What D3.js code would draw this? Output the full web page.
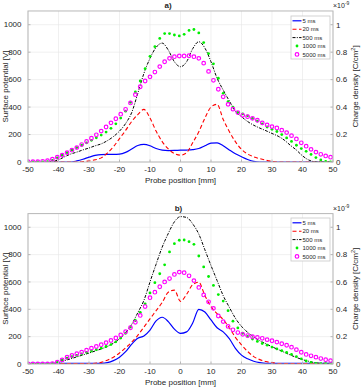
<!DOCTYPE html>
<html>
<head>
<meta charset="utf-8">
<script src="https://cdn.jsdelivr.net/npm/d3@7"></script>
<style>
  body { margin: 0; background: #fff; }
  svg text { font-family: "Liberation Sans", Arial, sans-serif; fill: #262626; }
</style>
</head>
<body>
<svg id="chart" width="361" height="387"></svg>
<script>
// probe positions [mm]: lines sampled every 2 mm, markers every 1.6 mm
const posLine = [-50,-48,-46,-44,-42,-40,-38,-36,-34,-32,-30,-28,-26,-24,-22,-20,-18,-16,-14,-12,-10,-8,-6,-4,-2,
                 0,2,4,6,8,10,12,14,16,18,20,22,24,26,28,30,32,34,36,38,40,42,44,46,48,50];
const posMark = [-50,-48.4,-46.8,-45.2,-43.6,-42,-40.4,-38.8,-37.2,-35.6,-34,-32.4,-30.8,-29.2,-27.6,-26,-24.4,-22.8,
                 -21.2,-19.6,-18,-16.4,-14.8,-13.2,-11.6,-10,-8.4,-6.8,-5.2,-3.6,-2,-0.4,1.2,2.8,4.4,6,7.6,9.2,10.8,
                 12.4,14,15.6,17.2,18.8,20.4,22,23.6,25.2,26.8,28.4,30,31.6,33.2,34.8,36.4,38,39.6,41.2,42.8,44.4,
                 46,47.6,49.2];

const seriesLabels = ["5 ms", "20 ms", "500 ms", "1000 ms", "5000 ms"];
const xTicks = [-50,-40,-30,-20,-10,0,10,20,30,40,50];
const yTicks = [0,200,400,600,800,1000];
const rightTickLabels = ["0","0.2","0.4","0.6","0.8","1"];

// panel a) surface potential [V]
const a5ms = [0,0,0,0,0,0,0,0,8,20,35,48,54,55,55,57,70,95,120,128,118,98,86,83,84,
              86,87,90,98,118,138,140,118,88,60,38,18,4,0,0,0,0,0,0,0,0,0,0,0,0,0];
const a20ms = [0,0,0,0,0,0,0,0,0,3,8,16,30,65,111,170,230,295,345,383,320,225,148,95,62,
               50,68,140,220,320,400,420,310,222,148,92,58,38,24,13,5,0,0,0,0,0,0,0,0,0,0];
const a500ms = [0,0,0,0,3,16,38,58,72,88,102,118,132,155,185,225,280,360,500,645,755,835,866,815,730,
                694,730,825,876,830,730,610,524,445,370,330,295,268,247,228,208,188,160,122,87,45,15,2,0,0,0];
const a1000ms = [0,0,0,0,3,12,30,50,68,87,105,122,140,158,176,196,218,245,278,320,370,435,510,590,680,
                 770,840,900,935,935,925,918,930,958,965,940,870,790,715,610,500,440,400,362,350,336,318,298,
                 278,255,238,222,200,175,150,122,98,78,55,32,15,5,0];
const a5000ms = [2,2,3,5,10,20,35,50,68,86,105,127,150,173,198,225,255,285,315,348,384,430,490,548,590,
                 620,655,695,730,755,767,772,772,774,767,755,720,660,595,530,475,420,385,360,340,330,318,304,
                 285,270,258,248,232,214,192,168,140,115,92,72,56,44,35];

// panel b) surface potential [V]
const b5ms = [5,5,5,5,5,5,5,5,5,5,5,5,5,10,25,50,90,145,188,205,248,315,342,310,255,
              224,235,300,400,380,322,265,235,185,115,65,38,20,10,5,5,5,5,5,5,5,5,5,5,5,5];
const b20ms = [3,3,3,3,3,3,3,3,3,3,3,5,12,28,50,80,118,160,210,270,330,390,450,525,540,
               458,510,580,598,500,420,368,325,265,195,140,92,54,32,18,10,4,4,4,4,4,4,4,4,4,4];
const b500ms = [0,0,0,0,3,10,25,38,52,66,80,95,110,128,152,185,228,290,375,465,600,730,855,955,1040,
                1078,1072,1025,950,835,720,610,500,415,335,275,232,198,170,148,126,106,86,66,48,32,20,10,5,5,5];
const b1000ms = [0,0,0,0,0,3,12,28,42,53,62,73,85,95,105,116,128,142,162,190,225,270,318,378,440,
                 520,595,660,725,820,880,905,907,895,875,790,710,640,575,508,460,390,313,264,225,202,183,165,
                 150,138,124,110,97,84,70,54,38,22,12,5,3,2,2];
const b5000ms = [0,0,0,0,0,2,14,30,50,63,75,87,101,116,128,141,156,172,190,212,236,265,305,355,420,
                 485,525,565,600,625,655,672,668,645,610,560,505,455,407,351,310,275,250,230,217,208,200,194,
                 188,178,170,160,148,137,123,105,86,70,60,50,40,31,25];

const panels = [
  { title: "a)", titleX: 168, top: 10.97, bottom: 162, legendTop: 16,
    series: [a5ms, a20ms, a500ms, a1000ms, a5000ms] },
  { title: "b)", titleX: 178.5, top: 213.6, bottom: 364, legendTop: 218,
    series: [b5ms, b20ms, b500ms, b1000ms, b5000ms] }
];

const styles = [
  { kind: "line", color: "#0000ff", width: 1.2, dash: null },
  { kind: "line", color: "#ff0000", width: 1.1, dash: "4,2.5" },
  { kind: "line", color: "#000000", width: 1, dash: "3,1.3,1,1.3" },
  { kind: "dot", color: "#00ee00" },
  { kind: "ring", color: "#ff00ff" }
];

const svg = d3.select("#chart");
const left = 28, right = 333;
const x = d3.scaleLinear().domain([-50, 50]).range([left, right]);

function drawPanel(p, pi) {
  const y = d3.scaleLinear().domain([0, 1100]).range([p.bottom, p.top]);
  const g = svg.append("g");

  g.append("rect").attr("x", left).attr("y", p.top)
    .attr("width", right - left).attr("height", p.bottom - p.top).attr("fill", "#fff");

  // grid
  g.selectAll("line.gx").data(xTicks).enter().append("line")
    .attr("x1", d => x(d)).attr("x2", d => x(d))
    .attr("y1", p.top).attr("y2", p.bottom)
    .attr("stroke", "#e6e6e6").attr("stroke-width", 0.6);
  g.selectAll("line.gy").data(yTicks).enter().append("line")
    .attr("x1", left).attr("x2", right)
    .attr("y1", d => y(d)).attr("y2", d => y(d))
    .attr("stroke", "#e6e6e6").attr("stroke-width", 0.6);

  const clipId = "clip" + pi;
  svg.append("clipPath").attr("id", clipId).append("rect")
    .attr("x", left).attr("y", p.top).attr("width", right - left).attr("height", p.bottom - p.top);
  const data = g.append("g").attr("clip-path", "url(#" + clipId + ")");

  const line = d3.line()
    .x(d => x(d[0])).y(d => y(d[1]))
    .curve(d3.curveMonotoneX);

  p.series.forEach(function(vals, si) {
    const st = styles[si];
    if (st.kind === "line") {
      data.append("path")
        .datum(posLine.map((px, i) => [px, vals[i]]))
        .attr("d", line)
        .attr("fill", "none")
        .attr("stroke", st.color)
        .attr("stroke-width", st.width)
        .attr("stroke-dasharray", st.dash);
    } else {
      const pts = posMark.map((px, i) => [px, vals[i]]);
      const sel = data.selectAll("circle.s" + si).data(pts).enter().append("circle")
        .attr("cx", d => x(d[0])).attr("cy", d => y(d[1]));
      if (st.kind === "dot") {
        sel.attr("r", 1.4).attr("fill", st.color);
      } else {
        sel.attr("r", 1.8).attr("fill", "none").attr("stroke", st.color).attr("stroke-width", 1.2);
      }
    }
  });

  // box and inward ticks
  g.append("rect").attr("x", left).attr("y", p.top)
    .attr("width", right - left).attr("height", p.bottom - p.top)
    .attr("fill", "none").attr("stroke", "#b8b8b8").attr("stroke-width", 1);
  g.selectAll("line.tx").data(xTicks).enter().append("line")
    .attr("x1", d => x(d)).attr("x2", d => x(d))
    .attr("y1", p.bottom).attr("y2", p.bottom - 2.5)
    .attr("stroke", "#b8b8b8");
  g.selectAll("line.tyl").data(yTicks).enter().append("line")
    .attr("x1", left).attr("x2", left + 2.5)
    .attr("y1", d => y(d)).attr("y2", d => y(d))
    .attr("stroke", "#b8b8b8");
  g.selectAll("line.tyr").data(yTicks).enter().append("line")
    .attr("x1", right).attr("x2", right - 2.5)
    .attr("y1", d => y(d)).attr("y2", d => y(d))
    .attr("stroke", "#b8b8b8");

  // tick labels
  g.selectAll("text.xl").data(xTicks).enter().append("text")
    .attr("x", d => x(d)).attr("y", p.bottom + 10)
    .attr("text-anchor", "middle").attr("font-size", 8)
    .text(d => d);
  g.selectAll("text.yl").data(yTicks).enter().append("text")
    .attr("x", left - 6.5).attr("y", d => y(d) + 2.6)
    .attr("text-anchor", "end").attr("font-size", 8)
    .text(d => d);
  g.selectAll("text.yr").data(yTicks).enter().append("text")
    .attr("x", right + 3).attr("y", d => y(d) + 2.8)
    .attr("text-anchor", "start").attr("font-size", 8)
    .text((d, i) => rightTickLabels[i]);

  // exponent
  const ex = g.append("text").attr("x", right).attr("y", p.top - 3).attr("font-size", 7);
  ex.append("tspan").text("\u00d710");
  ex.append("tspan").attr("font-size", 5).attr("dy", -2.5).text("-9");

  // title and axis labels
  g.append("text").attr("x", p.titleX).attr("y", p.top - 2.5)
    .attr("text-anchor", "middle").attr("font-size", 8).attr("font-weight", "bold")
    .text(p.title);
  g.append("text").attr("x", (left + right) / 2).attr("y", p.bottom + 21)
    .attr("text-anchor", "middle").attr("font-size", 8)
    .text("Probe position [mm]");
  const midY = (p.top + p.bottom) / 2;
  g.append("text").attr("transform", "translate(7.5," + midY + ") rotate(-90)")
    .attr("text-anchor", "middle").attr("font-size", 8)
    .text("Surface potential [V]");
  const rl = g.append("text").attr("transform", "translate(358," + midY + ") rotate(-90)")
    .attr("text-anchor", "middle").attr("font-size", 8);
  rl.append("tspan").text("Charge density [C/cm");
  rl.append("tspan").attr("font-size", 5.5).attr("dy", -3).text("2");
  rl.append("tspan").attr("dy", 3).text("]");

  // legend
  const lg = g.append("g");
  lg.append("rect").attr("x", 291).attr("y", p.legendTop).attr("width", 39).attr("height", 43)
    .attr("fill", "#fff").attr("stroke", "#c8c8c8").attr("stroke-width", 0.8);
  seriesLabels.forEach(function(lab, si) {
    const st = styles[si];
    const ly = p.legendTop + 4.8 + si * 8.4;
    if (st.kind === "line") {
      lg.append("line").attr("x1", 292.5).attr("x2", 301.5).attr("y1", ly).attr("y2", ly)
        .attr("stroke", st.color).attr("stroke-width", st.width).attr("stroke-dasharray", st.dash);
    } else if (st.kind === "dot") {
      lg.append("circle").attr("cx", 297).attr("cy", ly).attr("r", 1.4).attr("fill", st.color);
    } else {
      lg.append("circle").attr("cx", 297).attr("cy", ly).attr("r", 1.8)
        .attr("fill", "none").attr("stroke", st.color).attr("stroke-width", 1.2);
    }
    lg.append("text").attr("x", 302.5).attr("y", ly + 2.1).attr("font-size", 6).text(lab);
  });
}

panels.forEach(drawPanel);
</script>
</body>
</html>
